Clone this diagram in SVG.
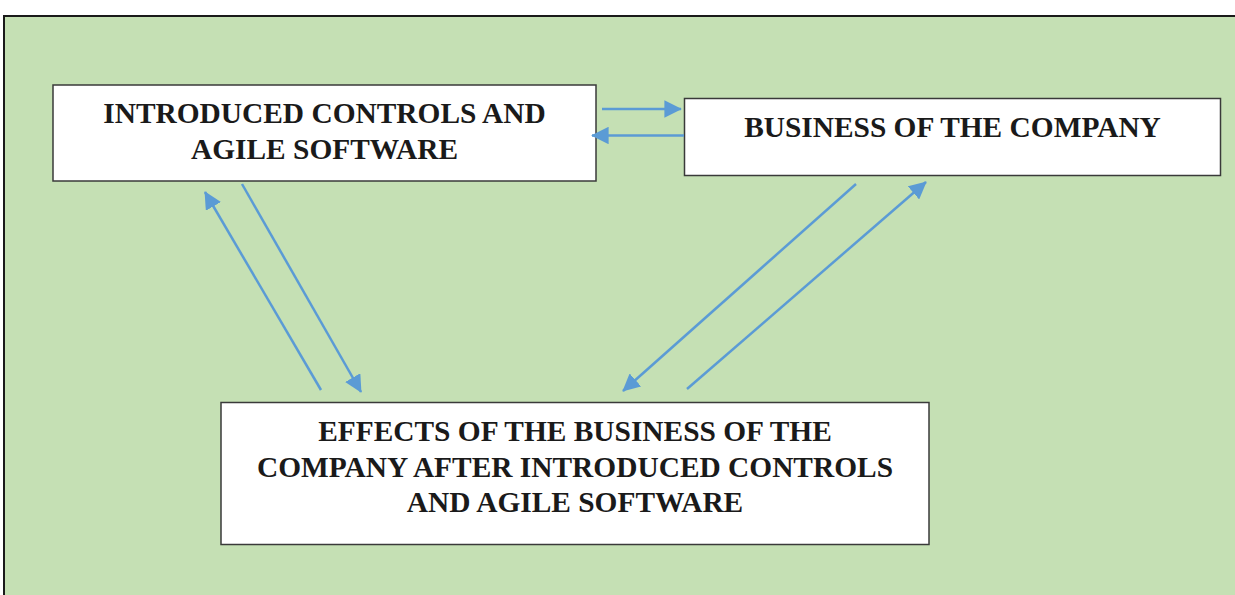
<svg xmlns="http://www.w3.org/2000/svg" width="1235" height="595" viewBox="0 0 1235 595">
<style>
.node rect{fill:#fff;stroke:#3a3a3a;stroke-width:1.5}
.node text{font-family:"Liberation Serif","Times New Roman",serif;font-weight:bold;font-size:29.4px;fill:#1a1a1a;text-anchor:middle}
.conn line{stroke:#5B9BD5;stroke-width:2.5;marker-end:url(#ah)}
</style>
<defs>
<marker id="ah" viewBox="0 0 10 10" refX="9.5" refY="5" markerWidth="7" markerHeight="7" markerUnits="strokeWidth" orient="auto">
<path d="M0,0 L10,5 L0,10 z" fill="#5B9BD5"/>
</marker>
</defs>
<rect x="0" y="0" width="1235" height="595" fill="#fff"/>
<rect id="frame" x="4" y="16" width="1240" height="590" fill="#C5E0B4" stroke="#1a1a1a" stroke-width="2"/>
<g id="n1" class="node">
<rect x="53" y="85" width="543" height="96"/>
<text x="324.5" y="122.5">INTRODUCED CONTROLS AND</text>
<text x="324.5" y="158.5">AGILE SOFTWARE</text>
</g>
<g id="n2" class="node">
<rect x="684.5" y="98.5" width="536" height="77"/>
<text x="952.5" y="136.5">BUSINESS OF THE COMPANY</text>
</g>
<g id="n3" class="node">
<rect x="221" y="402.5" width="708" height="142"/>
<text x="575" y="441">EFFECTS OF THE BUSINESS OF THE</text>
<text x="575" y="476.5">COMPANY AFTER INTRODUCED CONTROLS</text>
<text x="575" y="512">AND AGILE SOFTWARE</text>
</g>
<g id="connectors" class="conn">
<line x1="602" y1="109" x2="681" y2="109"/>
<line x1="684" y1="135.5" x2="592" y2="135.5"/>
<line x1="242" y1="184" x2="361" y2="392"/>
<line x1="321" y1="390" x2="205" y2="192"/>
<line x1="856" y1="184" x2="623" y2="391"/>
<line x1="687" y1="389" x2="926" y2="182"/>
</g>
</svg>
